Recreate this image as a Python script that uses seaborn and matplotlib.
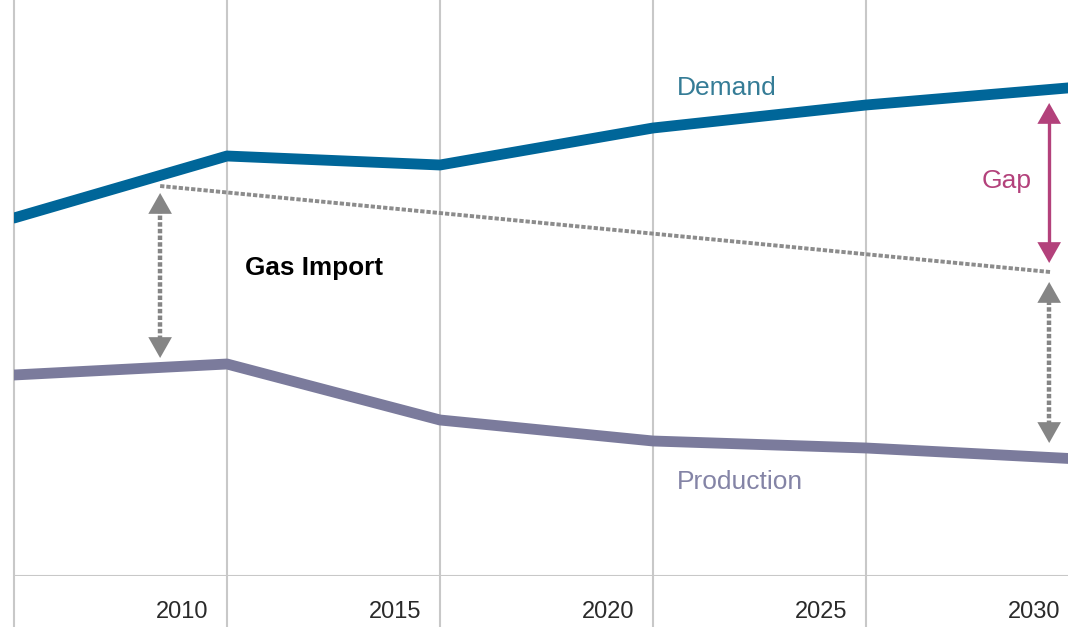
import matplotlib
matplotlib.use("Agg")
import matplotlib.pyplot as plt
import matplotlib.transforms as mtransforms
from matplotlib.patches import FancyArrowPatch
import seaborn as sns
import pandas as pd

# ---- data (values in arbitrary units) ----
years = [2005, 2010, 2015, 2020, 2025, 2030]
demand = [71.6, 84.0, 82.2, 89.6, 94.2, 97.8]
production = [40.2, 42.4, 31.2, 27.0, 25.6, 23.4]

# dotted reference line (start/end)
ref_years = [2008.43, 2029.32]
ref_values = [78.0, 60.8]

# arrows: (year, low value, high value)
import_left = (2008.43, 43.6, 76.6)
import_right = (2029.3, 26.6, 58.8)
gap_arrow = (2029.3, 62.6, 94.6)

tick_years = [2010, 2015, 2020, 2025, 2030]
tick_labels = ["2010", "2015", "2020", "2025", "2030"]
grid_years = [2005, 2010, 2015, 2020, 2025, 2030]

DEMAND_C = "#006699"
PROD_C = "#7b7b9c"
GAP_C = "#b3417b"
GRAY_ARROW = "#858585"
GRID_C = "#c8c8c8"

sns.set_theme(style="white")
plt.rcParams["font.family"] = ["Liberation Sans", "DejaVu Sans"]

fig = plt.figure(figsize=(10.68, 6.27), dpi=100)
ax = fig.add_axes([14 / 1068, 51 / 627, 1065 / 1068, 576 / 627])

# gridlines extending below the axis
for gy in grid_years:
    ax.axvline(gy, ymin=-51 / 576, ymax=1, color=GRID_C, lw=1.5, clip_on=False, zorder=1)
ax.axhline(0, color=GRID_C, lw=1.5, zorder=1)

df = pd.DataFrame({
    "year": years * 2,
    "value": demand + production,
    "series": ["Demand"] * len(years) + ["Production"] * len(years),
})
sns.lineplot(data=df, x="year", y="value", hue="series",
             palette={"Demand": DEMAND_C, "Production": PROD_C},
             linewidth=7.8, legend=False, ax=ax, zorder=3)

# dotted reference line
ax.plot(ref_years, ref_values, color="#8c8c8c", lw=2.8,
        linestyle=(0, (1.1, 0.5)), solid_capstyle="butt", zorder=2)


def double_arrow(x, y0, y1, color, dotted):
    hl, hw = 15, 8.5
    ls = (0, (1.0, 0.5)) if dotted else "-"
    lw = 3.2 if dotted else 2.4
    trans = ax.transData
    p0 = trans.transform((x, y0))
    p1 = trans.transform((x, y1))
    hl_px = hl * fig.dpi / 72
    inv = trans.inverted()
    yb0 = inv.transform((p0[0], p0[1] + hl_px * 0.9))[1]
    yb1 = inv.transform((p1[0], p1[1] - hl_px * 0.9))[1]
    ax.plot([x, x], [yb0, yb1], color=color, lw=lw, linestyle=ls,
            solid_capstyle="butt", zorder=4)
    for tip, base in ((y0, yb0), (y1, yb1)):
        arr = FancyArrowPatch((x, base), (x, tip),
                              arrowstyle=f"-|>,head_length={hl},head_width={hw}",
                              mutation_scale=1, color=color, lw=0,
                              shrinkA=0, shrinkB=0, zorder=4)
        ax.add_patch(arr)


double_arrow(*import_left, GRAY_ARROW, True)
double_arrow(*import_right, GRAY_ARROW, True)
double_arrow(*gap_arrow, GAP_C, False)

# text labels
ax.text(2020.56, 97.6, "Demand", color="#357c96", fontsize=19, va="center", ha="left")
ax.text(2020.56, 18.8, "Production", color="#8484a6", fontsize=19, va="center", ha="left")
ax.text(2010.42, 61.6, "Gas Import", color="black", fontsize=18.8, fontweight="bold",
        va="center", ha="left")
ax.text(2028.29, 79.0, "Gap", color=GAP_C, fontsize=19, va="center", ha="center")

ax.set_xlim(2005, 2030)
ax.set_ylim(0, 115.2)
ax.set_yticks([])
ax.set_xticks(tick_years)
ax.set_xticklabels(tick_labels, fontsize=17, color="#2a2a2a")
ax.tick_params(axis="x", length=0, pad=18)
offset = mtransforms.ScaledTranslation(-19 / 100, 0, fig.dpi_scale_trans)
for lab in ax.get_xticklabels():
    lab.set_horizontalalignment("right")
    lab.set_transform(lab.get_transform() + offset)
ax.set_xlabel("")
ax.set_ylabel("")
for s in ax.spines.values():
    s.set_visible(False)

fig.savefig("out.png", dpi=100)
